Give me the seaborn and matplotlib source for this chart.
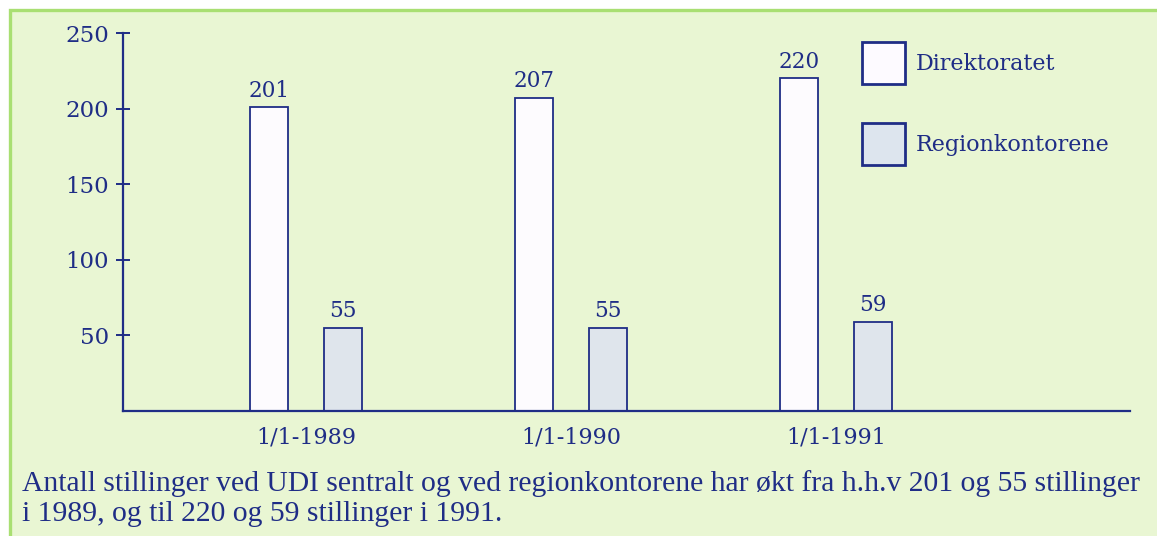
import matplotlib
matplotlib.use("Agg")
import matplotlib.pyplot as plt
from matplotlib.patches import Patch, Rectangle
import seaborn as sns
import pandas as pd

# ---- data ----
dates = ["1/1-1989", "1/1-1990", "1/1-1991"]
series = ["Direktoratet", "Regionkontorene"]
direktoratet = [201, 207, 220]
regionkontorene = [55, 55, 59]
yticks = [50, 100, 150, 200, 250]
caption_lines = ["Antall stillinger ved UDI sentralt og ved regionkontorene har økt fra h.h.v 201 og 55 stillinger",
                 "i 1989, og til 220 og 59 stillinger i 1991."]

df = pd.DataFrame({
    "dato": dates * 2,
    "enhet": [series[0]] * 3 + [series[1]] * 3,
    "stillinger": direktoratet + regionkontorene,
})

navy = "#1f2d86"
bg = "#e9f6d3"
border = "#a9df72"
fills = ["#fdfaff", "#dde5ee"]

sns.set_style("white")
plt.rcParams["font.family"] = ["DejaVu Serif"]

fig = plt.figure(figsize=(11.57, 5.36), dpi=100)
fig.patch.set_facecolor("white")
# green framed panel
fig.patches.append(Rectangle((10 / 1157, -0.1), 1.2, 1 - 10 / 536 + 0.1,
                             transform=fig.transFigure, facecolor=bg,
                             edgecolor=border, linewidth=2.4, zorder=-10))

ax = fig.add_axes([123 / 1157, 1 - 411 / 536, (1130 - 123) / 1157, (411 - 33) / 536])
ax.set_facecolor("none")

sns.barplot(data=df, x="dato", y="stillinger", hue="enhet", hue_order=series,
            palette=fills, width=0.558, gap=0.487, edgecolor=navy, linewidth=1.3,
            legend=False, ax=ax)

for cont in ax.containers:
    ax.bar_label(cont, padding=4, fontsize=15.5, color=navy)

ax.set_ylim(0, 250)
ax.set_xlim((123 - 306) / 265, (1130 - 306) / 265)
ax.set_yticks(yticks)
ax.set_xlabel("")
ax.set_ylabel("")
for s in ["top", "right"]:
    ax.spines[s].set_visible(False)
for s in ["left", "bottom"]:
    ax.spines[s].set_color(navy)
    ax.spines[s].set_linewidth(1.6)
ax.tick_params(axis="y", left=True, direction="inout", length=10, width=1.4, colors=navy,
               labelsize=16.5, pad=5)
ax.tick_params(axis="x", bottom=False, length=0, colors=navy, labelsize=16, pad=11)

handles = [Patch(facecolor=fills[i], edgecolor=navy, linewidth=2.0, label=series[i])
           for i in range(2)]
leg = ax.legend(handles=handles, loc="upper left", bbox_to_anchor=(862 / 1157, 1 - 42 / 536),
                bbox_transform=fig.transFigure, frameon=False, fontsize=16,
                handlelength=1.95, handleheight=2.55, handletextpad=0.45,
                labelspacing=1.75, borderpad=0, borderaxespad=0)
for t in leg.get_texts():
    t.set_color(navy)

for i, line in enumerate(caption_lines):
    fig.text(22 / 1157, 1 - (491 + 30 * i) / 536, line, family=["Liberation Serif"],
             fontsize=21.3, color=navy, ha="left", va="baseline")

fig.savefig("out.png", dpi=100)
